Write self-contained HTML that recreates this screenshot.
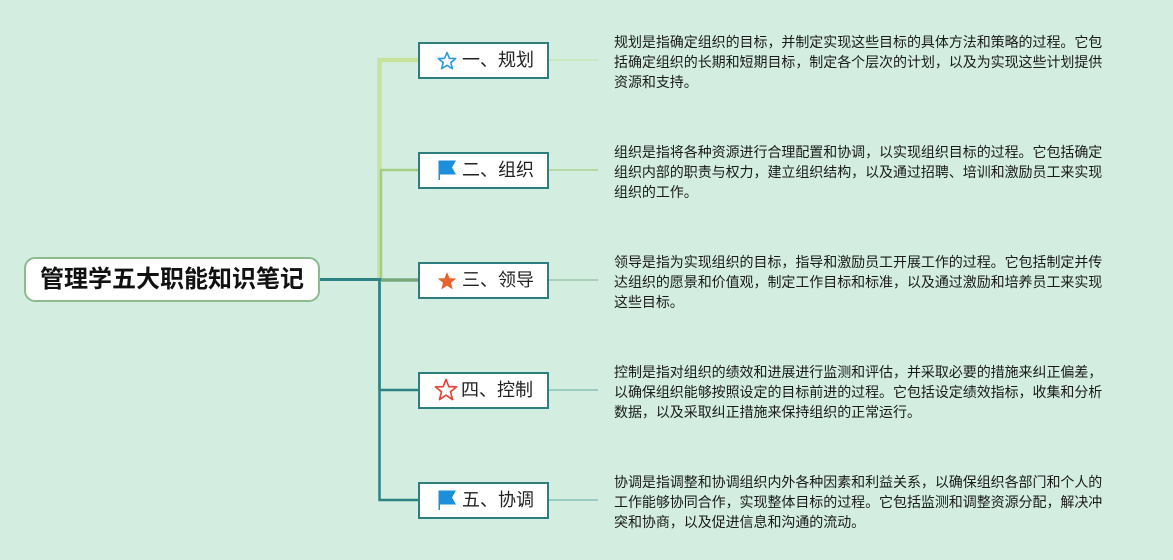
<!DOCTYPE html>
<html>
<head>
<meta charset="utf-8">
<style>
  html, body { margin:0; padding:0; }
  body { width:1173px; height:560px; background:#d3eee0; position:relative; overflow:hidden;
         font-family:"Liberation Sans","Noto Sans CJK SC",sans-serif; }
  svg.lines { position:absolute; left:0; top:0; }
  .root { position:absolute; left:24px; top:257px; width:292px; height:41px;
          border:2px solid #8dba8f; border-radius:11px; background:#fff;
          font-weight:bold; font-size:24px; color:#111; text-align:center; line-height:41px; }
  .node { position:absolute; left:418px; width:127px; height:33px; border:2px solid #2f7e7e;
          background:#fff; box-sizing:content-box; font-size:18px; color:#222; line-height:33px; }
  .node .ic { position:absolute; left:17px; top:7px; width:20px; height:20px; }
  .node .t { position:absolute; left:42px; top:0; white-space:nowrap; }
  .txt { position:absolute; left:614px; font-size:14px; letter-spacing:-0.05px; line-height:20px;
         color:#1a1a1a; white-space:nowrap; }
</style>
</head>
<body>
<svg class="lines" width="1173" height="560" viewBox="0 0 1173 560">
  <path d="M379.5,280 V60 H418" fill="none" stroke="#c6e29c" stroke-width="4.5"/>
  <path d="M381,280 V170 H418" fill="none" stroke="#a4cc84" stroke-width="2.5"/>
  <path d="M379.5,279 V390 H418" fill="none" stroke="#2f8282" stroke-width="2.5"/>
  <path d="M379.5,279 V500 H418" fill="none" stroke="#2f8282" stroke-width="2.5"/>
  <path d="M380,280 H418" fill="none" stroke="#78a97c" stroke-width="3.5"/>
  <path d="M318,279.5 H381" fill="none" stroke="#2f8282" stroke-width="3"/>
  <path d="M548,60 H598" stroke="#c6e6b2" stroke-width="1.5"/>
  <path d="M548,170 H598" stroke="#abd38f" stroke-width="1.5"/>
  <path d="M548,280 H598" stroke="#99c9ab" stroke-width="1.5"/>
  <path d="M548,390 H598" stroke="#86c2ba" stroke-width="1.5"/>
  <path d="M548,500 H598" stroke="#86c2ba" stroke-width="1.5"/>
</svg>

<div class="root">管理学五大职能知识笔记</div>

<div class="node" style="top:42px;">
  <svg class="ic" viewBox="0 0 20 20"><polygon points="10,1.5 12.4,7.3 18.6,7.6 13.8,11.6 15.4,17.7 10,14.3 4.6,17.7 6.2,11.6 1.4,7.6 7.6,7.3" fill="none" stroke="#2a9ad8" stroke-width="1.6" stroke-linejoin="round"/></svg>
  <span class="t">一、规划</span>
</div>

<div class="node" style="top:152px;">
  <svg class="ic" viewBox="0 0 20 20" style="top:6px;"><path d="M1.5,0.5 H19 L15,7.5 L19,14.5 H3 V22 H1.5 Z" fill="#1b8fdb"/></svg>
  <span class="t">二、组织</span>
</div>

<div class="node" style="top:262px;">
  <svg class="ic" viewBox="0 0 20 20"><polygon points="10,1 12.5,7.2 19.2,7.5 14,11.8 15.7,18.4 10,14.7 4.3,18.4 6,11.8 0.8,7.5 7.5,7.2" fill="#e8622d"/></svg>
  <span class="t">三、领导</span>
</div>

<div class="node" style="top:372px;">
  <svg class="ic" viewBox="0 0 24 24" style="left:14px;top:4px;width:24px;height:24px;"><polygon points="12,1.5 14.8,8.6 22.5,8.9 16.5,13.8 18.5,21.5 12,17.2 5.5,21.5 7.5,13.8 1.5,8.9 9.2,8.6" fill="none" stroke="#e2473a" stroke-width="1.7" stroke-linejoin="round"/></svg>
  <span class="t" style="left:41px;">四、控制</span>
</div>

<div class="node" style="top:482px;">
  <svg class="ic" viewBox="0 0 20 20" style="top:6px;"><path d="M1.5,0.5 H19 L15,7.5 L19,14.5 H3 V22 H1.5 Z" fill="#1b8fdb"/></svg>
  <span class="t">五、协调</span>
</div>

<div class="txt" style="top:32px;">规划是指确定组织的目标，并制定实现这些目标的具体方法和策略的过程。它包<br>括确定组织的长期和短期目标，制定各个层次的计划，以及为实现这些计划提供<br>资源和支持。</div>

<div class="txt" style="top:142px;">组织是指将各种资源进行合理配置和协调，以实现组织目标的过程。它包括确定<br>组织内部的职责与权力，建立组织结构，以及通过招聘、培训和激励员工来实现<br>组织的工作。</div>

<div class="txt" style="top:252px;">领导是指为实现组织的目标，指导和激励员工开展工作的过程。它包括制定并传<br>达组织的愿景和价值观，制定工作目标和标准，以及通过激励和培养员工来实现<br>这些目标。</div>

<div class="txt" style="top:362px;">控制是指对组织的绩效和进展进行监测和评估，并采取必要的措施来纠正偏差，<br>以确保组织能够按照设定的目标前进的过程。它包括设定绩效指标，收集和分析<br>数据，以及采取纠正措施来保持组织的正常运行。</div>

<div class="txt" style="top:472px;">协调是指调整和协调组织内外各种因素和利益关系，以确保组织各部门和个人的<br>工作能够协同合作，实现整体目标的过程。它包括监测和调整资源分配，解决冲<br>突和协商，以及促进信息和沟通的流动。</div>
</body>
</html>
